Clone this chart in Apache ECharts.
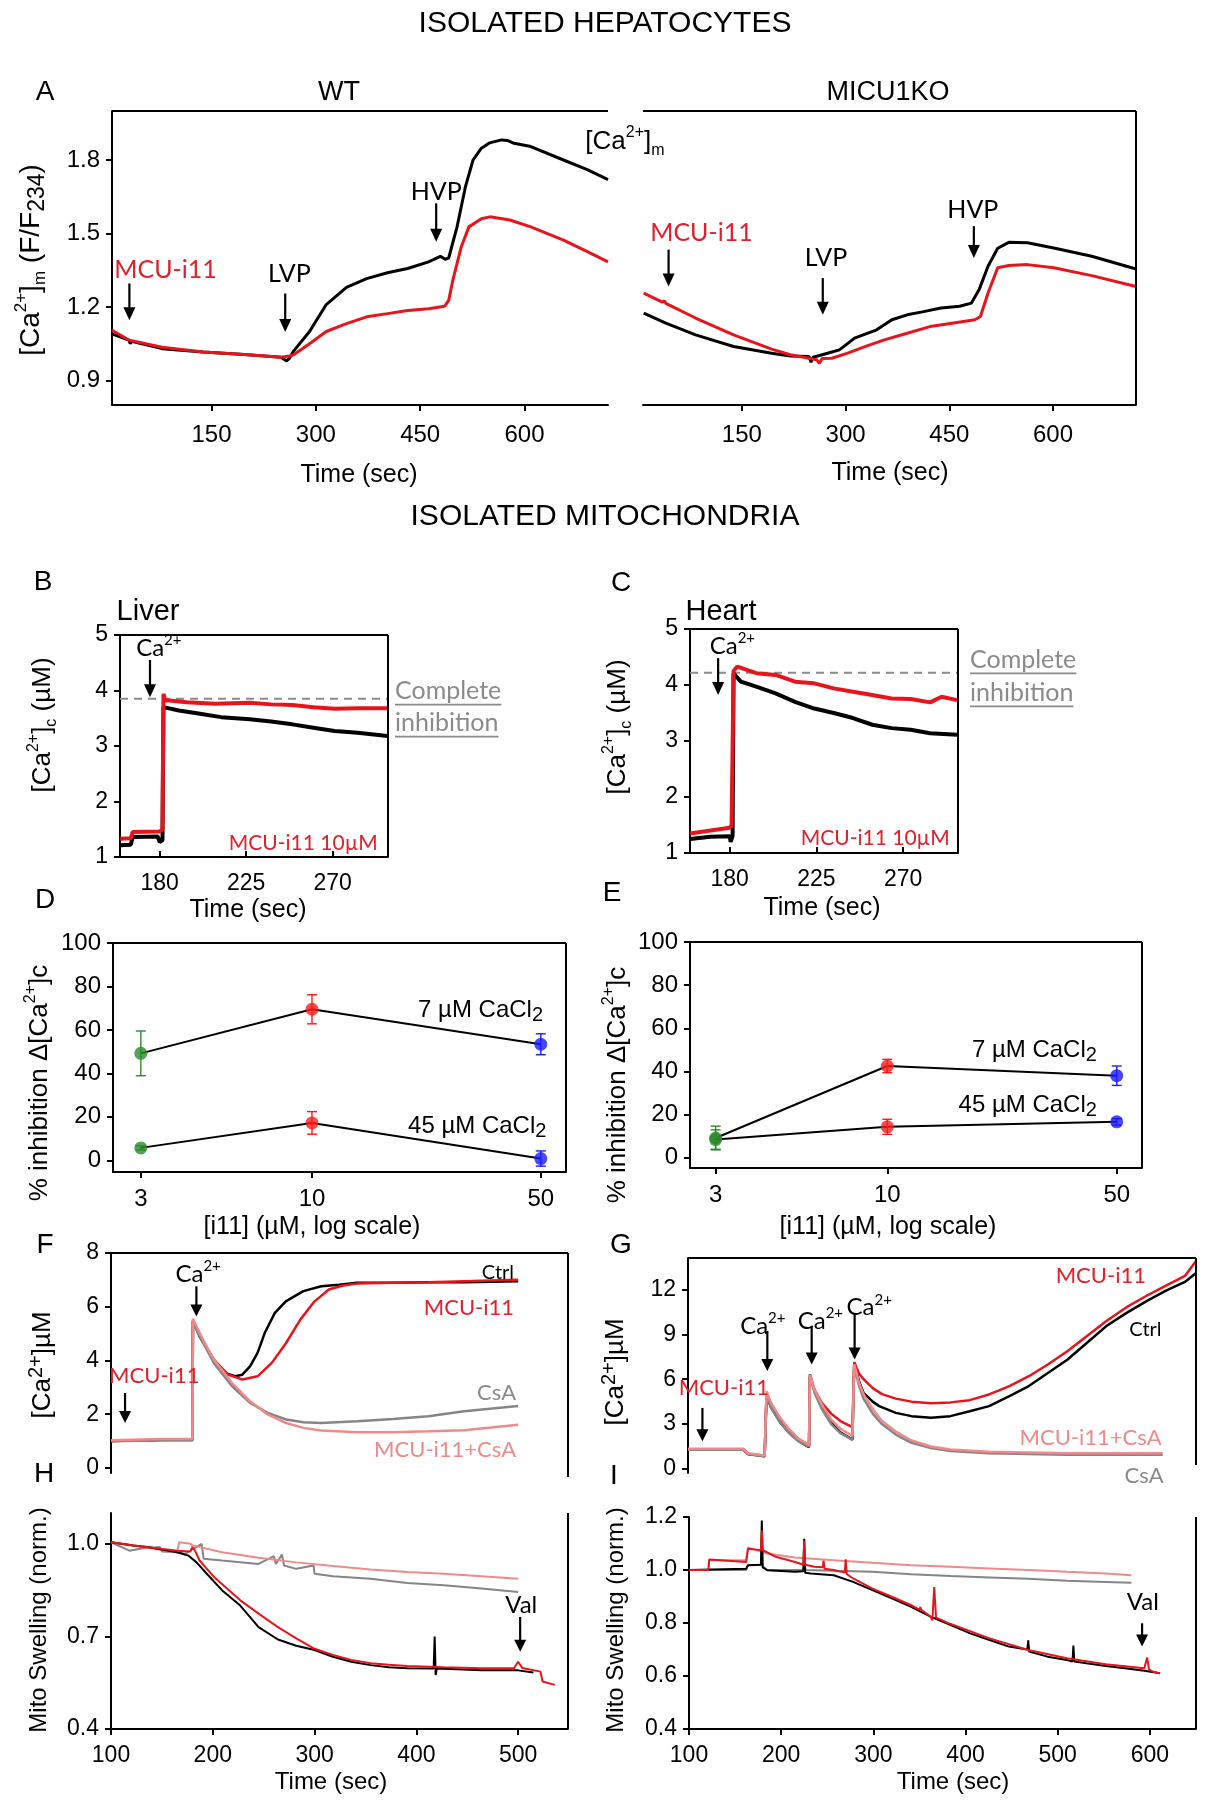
<!DOCTYPE html>
<html><head><meta charset="utf-8">
<script src="https://cdn.jsdelivr.net/npm/echarts@6/dist/echarts.min.js"></script>
<style>html,body{margin:0;padding:0;background:#fff}#c{width:1211px;height:1800px}</style>
</head><body><div id="c"></div>
<script>
// ---------------- DATA ----------------
// Panel A (isolated hepatocytes), [time s, F/F234]
const A_WT_CTRL = [[7,1.09],[32,1.064],[33,1.05],[35,1.06],[79,1.03],[138,1.016],[197,1.006],[250,0.995],[258,0.98],[262,0.99],[268,1.02],[291,1.10],[315,1.21],[344,1.28],[373,1.316],[403,1.34],[432,1.357],[462,1.384],[479,1.407],[486,1.395],[491,1.40],[503,1.527],[515,1.69],[526,1.80],[538,1.848],[550,1.87],[567,1.882],[575,1.88],[585,1.868],[609,1.855],[656,1.80],[691,1.76],[720,1.72]];
const A_WT_MCU = [[7,1.105],[32,1.064],[79,1.036],[138,1.016],[197,1.006],[250,0.995],[262,1.0],[268,1.005],[291,1.05],[315,1.10],[344,1.132],[373,1.16],[403,1.173],[432,1.186],[462,1.193],[485,1.203],[491,1.227],[497,1.31],[509,1.445],[520,1.527],[538,1.56],[550,1.568],[579,1.555],[609,1.527],[656,1.473],[691,1.425],[720,1.384]];
const A_KO_CTRL = [[8,1.175],[40,1.134],[83,1.086],[138,1.039],[193,1.011],[220,1.0],[247,0.998],[250,0.975],[253,0.995],[274,1.011],[291,1.025],[313,1.073],[345,1.107],[367,1.148],[389,1.168],[411,1.18],[438,1.196],[465,1.203],[482,1.216],[493,1.27],[506,1.366],[520,1.44],[536,1.464],[563,1.462],[601,1.441],[656,1.407],[720,1.355]];
const A_KO_MCU = [[8,1.257],[35,1.22],[38,1.225],[40,1.215],[83,1.155],[138,1.086],[193,1.028],[220,1.005],[247,0.991],[258,0.985],[262,0.97],[266,0.99],[280,0.991],[302,1.011],[329,1.039],[356,1.066],[389,1.093],[422,1.12],[454,1.134],[487,1.148],[495,1.161],[506,1.257],[520,1.36],[536,1.369],[563,1.373],[601,1.36],[656,1.328],[720,1.284]];
const A_X_TICKS = [150,300,450,600];
const A_Y_TICKS = [0.9,1.2,1.5,1.8];

// Panel B (liver) / C (heart), [time s, µM]
const B_CTRL = [[159.5,1.21],[165,1.22],[166,1.36],[179,1.37],[180,1.27],[181.5,1.30],[182,3.70],[190,3.64],[201,3.58],[212,3.52],[227,3.48],[238,3.44],[249,3.39],[260,3.33],[271,3.27],[283,3.24],[298.5,3.18]];
const B_MCU = [[159.5,1.33],[165,1.34],[166,1.45],[180,1.46],[181.5,1.5],[182,3.94],[183,3.82],[185,3.82],[194,3.79],[209,3.76],[227,3.78],[238,3.75],[249,3.74],[260,3.70],[271,3.67],[283,3.68],[298.5,3.68]];
const B_COMPLETE = 3.85;
const C_CTRL = [[159.5,1.25],[170,1.29],[180,1.30],[180.5,1.2],[181.5,1.3],[182,4.21],[182.7,4.18],[185.8,4.06],[193.8,3.97],[203.8,3.85],[213.9,3.70],[223.9,3.58],[234,3.50],[244,3.41],[254,3.29],[264,3.23],[274,3.20],[284,3.14],[298,3.11]];
const C_MCU = [[159.5,1.35],[170,1.40],[180,1.45],[181,1.5],[182,4.25],[184,4.33],[193.8,4.21],[203.8,4.18],[213.9,4.06],[223.9,4.03],[234,3.94],[244,3.88],[254,3.82],[264,3.76],[274,3.75],[284,3.69],[290,3.79],[298,3.73]];
const C_COMPLETE = 4.22;
const BC_X_TICKS = [180,225,270];
const BC_Y_TICKS = [1,2,3,4,5];

// Panels D / E (% inhibition)
const DE_CONC = [3,10,50];
const D_7_MEAN = [49.2,69.5,53.4],  D_7_ERR = [10.3,6.7,4.8];
const D_45_MEAN = [5.7,17.2,0.8],   D_45_ERR = [1.0,5.2,3.5];
const E_7_MEAN = [9.1,42.5,38.0],   E_7_ERR = [5.5,3.1,4.5];
const E_45_MEAN = [8.4,14.3,16.6],  E_45_ERR = [4.5,3.5,1.5];
const DE_Y_TICKS = [0,20,40,60,80,100];

// Panel F / G ([Ca2+] µM)
const F_CTRL = [[100,1.0],[140,1.02],[150,1.05],[180,1.05],[180.5,5.46],[187,4.9],[201,4.03],[211,3.54],[222,3.41],[229,3.47],[236.6,3.78],[244,4.28],[251,5.02],[261,5.77],[271.7,6.2],[289,6.58],[306.6,6.76],[324,6.82],[342,6.89],[377,6.89],[412,6.91],[447,6.91],[500,6.95]];
const F_MCU = [[100,1.0],[150,1.05],[180,1.05],[180.5,5.5],[190,4.7],[201,4.03],[215,3.47],[229,3.29],[244,3.41],[258,3.91],[272,4.65],[286,5.52],[300,6.2],[314,6.64],[328,6.79],[342,6.86],[377,6.89],[412,6.91],[447,6.95],[500,7.0]];
const F_CSA = [[100,1.0],[150,1.02],[180,1.02],[180.5,5.4],[190,4.7],[201,3.91],[219,3.04],[236.6,2.42],[254,2.05],[272,1.80],[289,1.70],[306.6,1.67],[342,1.74],[377,1.82],[412,1.92],[447,2.11],[500,2.30]];
const F_MCU_CSA = [[100,1.03],[150,1.08],[180,1.08],[180.5,5.55],[190,4.8],[201,4.03],[219,3.16],[236.6,2.48],[254,1.99],[272,1.67],[289,1.49],[306.6,1.39],[342,1.33],[377,1.33],[412,1.36],[447,1.40],[500,1.61]];
const F_Y_TICKS = [0,2,4,6,8];
const G_CTRL = [[100,1.29],[160,1.29],[165,1.0],[183,0.85],[185,4.87],[190,4.1],[200,3.1],[210,2.4],[220,1.85],[231,1.45],[232,6.32],[237,5.2],[245,4.1],[255,3.1],[265,2.45],[278,1.96],[280,7.1],[285,5.9],[290,5.09],[300,4.5],[307,4.2],[325,3.75],[342,3.53],[363,3.42],[384,3.53],[405,3.86],[426,4.2],[448,4.87],[469,5.54],[490,6.43],[511,7.32],[532,8.44],[553,9.55],[574,10.4],[596,11.2],[617,11.9],[638,12.5],[650,13.1]];
const G_MCU = [[100,1.3],[160,1.3],[165,1.0],[183,0.88],[185,5.0],[190,4.3],[200,3.3],[210,2.6],[220,2.0],[231,1.6],[232,6.2],[237,5.3],[245,4.4],[255,3.7],[265,3.2],[278,2.8],[280,7.14],[285,6.4],[290,6.0],[300,5.4],[310,5.0],[325,4.7],[342,4.5],[363,4.4],[384,4.45],[405,4.6],[426,4.98],[448,5.54],[469,6.2],[490,7.0],[511,7.88],[532,8.88],[553,9.89],[574,10.78],[596,11.56],[617,12.23],[638,12.9],[650,13.9]];
const G_CSA = [[100,1.28],[160,1.28],[165,1.0],[183,0.85],[185,4.9],[190,4.1],[200,3.1],[210,2.35],[220,1.85],[231,1.5],[232,6.2],[237,5.1],[245,4.0],[255,3.0],[265,2.4],[278,1.95],[280,6.9],[285,5.6],[290,4.7],[300,3.7],[310,3.0],[325,2.3],[342,1.75],[363,1.4],[384,1.2],[426,1.05],[511,0.95],[614,0.95]];
const G_MCU_CSA = [[100,1.35],[160,1.35],[165,1.05],[183,0.9],[185,5.2],[190,4.4],[200,3.4],[210,2.6],[220,2.0],[231,1.6],[232,6.3],[237,5.3],[245,4.3],[255,3.3],[265,2.7],[278,2.2],[280,7.0],[285,5.8],[290,5.0],[300,4.0],[310,3.2],[325,2.5],[342,1.9],[363,1.5],[384,1.3],[426,1.15],[511,1.05],[614,1.05]];
const G_Y_TICKS = [0,3,6,9,12];

// Panel H / I (mito swelling)
const H_CTRL = [[100,1.005],[122,0.995],[136,0.99],[165,0.973],[176,0.962],[184,0.94],[195,0.90],[209,0.85],[227,0.80],[245,0.73],[264,0.69],[282,0.67],[300,0.656],[318,0.634],[336,0.618],[355,0.607],[373,0.60],[391,0.597],[417,0.596],[418,0.70],[419,0.575],[420,0.596],[427,0.595],[464,0.59],[500,0.59],[515,0.583]];
const H_MCU = [[100,1.005],[122,0.995],[165,0.978],[178,0.975],[180,0.99],[183,0.975],[187,0.946],[202,0.89],[209,0.87],[227,0.817],[245,0.774],[264,0.73],[282,0.694],[300,0.66],[318,0.64],[336,0.624],[355,0.613],[373,0.608],[391,0.604],[427,0.60],[464,0.597],[496,0.597],[500,0.618],[504,0.598],[522,0.586],[524,0.554],[536,0.543]];
const H_CSA = [[100,1.005],[118,0.978],[130,0.985],[148,0.99],[150,0.975],[165,0.973],[173,0.968],[189,1.0],[191,0.952],[209,0.946],[245,0.935],[260,0.96],[262,0.935],[268,0.965],[270,0.93],[282,0.919],[299,0.93],[300,0.903],[318,0.895],[355,0.887],[391,0.873],[427,0.866],[464,0.855],[500,0.844]];
const H_MCU_CSA = [[100,1.005],[165,0.973],[167,1.005],[178,1.0],[180,0.995],[209,0.973],[245,0.955],[282,0.94],[318,0.928],[355,0.917],[391,0.909],[427,0.903],[464,0.895],[500,0.887]];
const H_X_TICKS = [100,200,300,400,500];
const H_Y_TICKS = [0.4,0.7,1.0];
const I_CTRL = [[100,1.0],[162,1.005],[164,1.018],[178,1.02],[179,1.187],[180,1.01],[185,0.999],[215,0.993],[224,0.995],[225,1.118],[226,0.99],[232,0.987],[257,0.98],[278,0.955],[299,0.924],[320,0.893],[341,0.861],[362,0.824],[384,0.792],[405,0.761],[426,0.736],[447,0.711],[467,0.70],[468,0.735],[469,0.692],[489,0.673],[510,0.66],[516,0.655],[517,0.715],[518,0.655],[531,0.648],[552,0.638],[573,0.629],[594,0.62],[611,0.61]];
const I_MCU = [[100,1.0],[121,1.0],[122,1.04],[162,1.03],[164,1.08],[178,1.075],[179,1.15],[180,1.075],[194,1.05],[215,1.03],[224,1.02],[225,1.11],[226,1.02],[236,1.012],[245,1.01],[246,1.035],[247,1.005],[257,1.0],[269,0.99],[270,1.04],[271,0.985],[278,0.968],[299,0.93],[320,0.899],[341,0.867],[350,0.85],[351,0.86],[352,0.85],[362,0.824],[364,0.81],[366,0.936],[368,0.82],[384,0.796],[426,0.742],[468,0.698],[510,0.667],[552,0.644],[594,0.629],[597,0.67],[599,0.625],[603,0.617],[611,0.61]];
const I_CSA = [[100,1.0],[162,1.0],[164,1.018],[178,1.02],[185,1.0],[223,1.0],[225,1.015],[227,1.0],[257,0.997],[299,0.993],[341,0.984],[384,0.977],[426,0.972],[468,0.967],[510,0.959],[552,0.955],[580,0.952]];
const I_MCU_CSA = [[100,1.0],[121,1.0],[122,1.037],[162,1.037],[164,1.085],[185,1.062],[215,1.047],[257,1.037],[299,1.027],[341,1.018],[384,1.012],[426,1.006],[468,1.0],[510,0.993],[552,0.987],[580,0.98]];
const I_X_TICKS = [100,200,300,400,500,600];
const I_Y_TICKS = [0.4,0.6,0.8,1.0,1.2];

// ---------------- STYLE / LAYOUT ----------------
const SANS = "'Liberation Sans', Arial, sans-serif";
const CAL = "Lato, 'Open Sans', sans-serif";
const BLACK = '#000000', RED = '#e8141c', PINK = '#f08a8a', GRAY = '#858585';
const TXT_RED = '#e0202a', TXT_GRAY = '#8a8a8a';
const DOT_COLORS = ['#2a8a2a', '#ff1a1a', '#1a1aff'];

const L = [
  {l:112, t:111, r:608, b:405},   // 0 A WT
  {l:643, t:111, r:1136, b:405},  // 1 A KO
  {l:120, t:635, r:388, b:857},   // 2 B
  {l:690, t:629, r:958, b:853},   // 3 C
  {l:113, t:943, r:566, b:1172},  // 4 D
  {l:690, t:942, r:1142, b:1168}, // 5 E
  {l:111, t:1253, r:568, b:1473}, // 6 F
  {l:688, t:1258, r:1196, b:1473},// 7 G
  {l:111, t:1513, r:568, b:1729}, // 8 H
  {l:689, t:1517, r:1196, b:1729} // 9 I
];
const XR = [[7,720],[7,720],[159.4,298.8],[159.4,298.5],[2.467,59.7],[2.506,59.7],[100,549],[100,650],[100,549],[100,650]];
const YR = [[0.8,2.0],[0.8,2.0],[1,5],[1,5],[-5.4,100],[-4.8,100],[-0.19,8],[-0.27,14.1],[0.4,1.1],[0.4,1.2]];
const XT = [A_X_TICKS, A_X_TICKS, BC_X_TICKS, BC_X_TICKS, DE_CONC, DE_CONC, null, null, H_X_TICKS, I_X_TICKS];
const YT = [A_Y_TICKS, null, BC_Y_TICKS, BC_Y_TICKS, DE_Y_TICKS, DE_Y_TICKS, F_Y_TICKS, G_Y_TICKS, H_Y_TICKS, I_Y_TICKS];
const YDEC = [1,0,0,0,0,0,0,0,1,1];
const TICK_FONT = [24,24,23,23,24,24,23,23,23,23];

const chart = echarts.init(document.getElementById('c'), null, {width:1211, height:1800});

const grids = L.map(g => ({left:g.l, top:g.t, width:g.r-g.l, height:g.b-g.t, containLabel:false}));
const xAxes = L.map((g,i) => {
  const ticks = XT[i];
  const base = {gridIndex:i, type:(i===4||i===5)?'log':'value', min:XR[i][0], max:XR[i][1], splitLine:{show:false}};
  if (i===4||i===5) base.logBase = 10;
  if (!ticks) return Object.assign(base, {show:false});
  return Object.assign(base, {
    axisLine:{show:true, onZero:false, lineStyle:{color:'#000', width:2}},
    axisTick:{show:true, customValues:ticks, length:6, inside:(i===2||i===3), lineStyle:{color:'#000', width:2}},
    axisLabel:{customValues:ticks, fontSize:TICK_FONT[i], fontFamily:SANS, color:'#000', margin:(i<2?18:15)}
  });
});
const yAxes = L.map((g,i) => {
  const ticks = YT[i];
  const base = {gridIndex:i, type:'value', min:YR[i][0], max:YR[i][1], splitLine:{show:false}};
  if (!ticks) return Object.assign(base, {show:false});
  return Object.assign(base, {
    axisLine:{show:true, onZero:false, lineStyle:{color:'#000', width:2}},
    axisTick:{show:true, customValues:ticks, length:6, lineStyle:{color:'#000', width:2}},
    axisLabel:{customValues:ticks, fontSize:TICK_FONT[i], fontFamily:SANS, color:'#000', margin:12,
      formatter: v => YDEC[i] ? Number(v).toFixed(1) : String(Math.round(v))}
  });
});

function ln(gi, data, color, width, z, extra) {
  return Object.assign({type:'line', xAxisIndex:gi, yAxisIndex:gi, data, showSymbol:false, symbol:'none',
    lineStyle:{color, width}, itemStyle:{color}, z:z||2, silent:true, animation:false}, extra||{});
}
function pts(conc, mean) { return conc.map((c,i)=>[c, mean[i]]); }
function dots(gi, conc, mean) {
  return {type:'scatter', xAxisIndex:gi, yAxisIndex:gi, symbolSize:13, z:6, silent:true, animation:false,
    data: conc.map((c,i)=>({value:[c, mean[i]], itemStyle:{color:DOT_COLORS[i]}}))};
}
function errs(gi, conc, mean, err) {
  return {type:'custom', xAxisIndex:gi, yAxisIndex:gi, z:5, silent:true, animation:false,
    data: conc.map((c,i)=>[c, mean[i], err[i], i]),
    renderItem: (params, api) => {
      const x = api.value(0), m = api.value(1), e = api.value(2), c = DOT_COLORS[api.value(3)];
      const top = api.coord([x, m+e]), bot = api.coord([x, m-e]);
      const w = 5, st = {stroke:c, lineWidth:1.4};
      return {type:'group', children:[
        {type:'line', shape:{x1:top[0], y1:top[1], x2:bot[0], y2:bot[1]}, style:st},
        {type:'line', shape:{x1:top[0]-w, y1:top[1], x2:top[0]+w, y2:top[1]}, style:st},
        {type:'line', shape:{x1:bot[0]-w, y1:bot[1], x2:bot[0]+w, y2:bot[1]}, style:st}
      ]};
    }};
}
const series = [
  ln(0, A_WT_CTRL, BLACK, 3), ln(0, A_WT_MCU, RED, 3, 3),
  ln(1, A_KO_CTRL, BLACK, 3), ln(1, A_KO_MCU, RED, 3, 3),
  ln(2, [[XR[2][0], B_COMPLETE],[XR[2][1], B_COMPLETE]], '#8c8c8c', 2, 1, {lineStyle:{color:'#8c8c8c', width:2, type:[8,6]}}),
  ln(2, B_CTRL, BLACK, 4), ln(2, B_MCU, RED, 4, 3),
  ln(3, [[XR[3][0], C_COMPLETE],[XR[3][1], C_COMPLETE]], '#8c8c8c', 2, 1, {lineStyle:{color:'#8c8c8c', width:2, type:[8,6]}}),
  ln(3, C_CTRL, BLACK, 4), ln(3, C_MCU, RED, 4, 3),
  ln(4, pts(DE_CONC, D_7_MEAN), BLACK, 2), ln(4, pts(DE_CONC, D_45_MEAN), BLACK, 2),
  errs(4, DE_CONC, D_7_MEAN, D_7_ERR), errs(4, DE_CONC, D_45_MEAN, D_45_ERR),
  dots(4, DE_CONC, D_7_MEAN), dots(4, DE_CONC, D_45_MEAN),
  ln(5, pts(DE_CONC, E_7_MEAN), BLACK, 2), ln(5, pts(DE_CONC, E_45_MEAN), BLACK, 2),
  errs(5, DE_CONC, E_7_MEAN, E_7_ERR), errs(5, DE_CONC, E_45_MEAN, E_45_ERR),
  dots(5, DE_CONC, E_7_MEAN), dots(5, DE_CONC, E_45_MEAN),
  ln(6, F_CTRL, BLACK, 2.5, 2), ln(6, F_MCU, RED, 2.5, 3), ln(6, F_CSA, GRAY, 2.5, 4), ln(6, F_MCU_CSA, PINK, 2.5, 5),
  ln(7, G_CTRL, BLACK, 2.5, 2), ln(7, G_MCU, RED, 2.5, 3), ln(7, G_CSA, GRAY, 2.5, 4), ln(7, G_MCU_CSA, PINK, 2.5, 5),
  ln(8, H_CSA, GRAY, 2, 2), ln(8, H_MCU_CSA, PINK, 2, 3), ln(8, H_CTRL, BLACK, 2, 4), ln(8, H_MCU, RED, 2, 5),
  ln(9, I_CSA, GRAY, 2, 2), ln(9, I_MCU_CSA, PINK, 2, 3), ln(9, I_CTRL, BLACK, 2, 4), ln(9, I_MCU, RED, 2, 5)
];

chart.setOption({animation:false, textStyle:{fontFamily:SANS}, grid:grids, xAxis:xAxes, yAxis:yAxes, series});

// ---------------- ANNOTATIONS ----------------
function rich(size, color, family) {
  const s = Math.round(size*0.62), s2 = Math.round(size*0.82), s3 = Math.round(size*0.78);
  return {
    sup:{fontSize:s, fontFamily:family, fill:color, verticalAlign:'top', lineHeight:s},
    supL:{fontSize:s3, fontFamily:family, fill:color, verticalAlign:'top', lineHeight:s3},
    sub:{fontSize:s, fontFamily:family, fill:color, verticalAlign:'bottom', lineHeight:s},
    sub2:{fontSize:s2, fontFamily:family, fill:color, verticalAlign:'bottom', lineHeight:s2}
  };
}
function txt(x, y, text, size, o) {
  o = o || {};
  const color = o.color || '#000', family = o.family || SANS;
  return {type:'text', x, y, rotation:o.rot||0, z:50, silent:true,
    style:{text, fill:color, fontSize:size, fontFamily:family, align:o.align||'center', verticalAlign:o.va||'middle',
      lineHeight:Math.round(size*1.3), rich:rich(size, color, family)}};
}
function px(gi, x, y) { return chart.convertToPixel({xAxisIndex:gi, yAxisIndex:gi}, [x, y]); }
function dtxt(gi, x, y, text, size, o) { const p = px(gi, x, y); return txt(p[0], p[1], text, size, o); }
function arrow(gi, x, y1, y2, o) {
  o = o || {};
  const p1 = px(gi, x, y1), p2 = px(gi, x, y2);
  const hw = o.hw || 6, hl = o.hl || 13;
  return [
    {type:'line', z:50, silent:true, shape:{x1:p1[0], y1:p1[1], x2:p2[0], y2:p2[1]-hl+2}, style:{stroke:'#000', lineWidth:o.lw||2.2}},
    {type:'polygon', z:50, silent:true, shape:{points:[[p2[0]-hw, p2[1]-hl],[p2[0]+hw, p2[1]-hl],[p2[0], p2[1]]]}, style:{fill:'#000'}}
  ];
}
function seg(x1, y1, x2, y2, w) {
  return {type:'line', z:40, silent:true, shape:{x1, y1, x2, y2}, style:{stroke:'#000', lineWidth:w||2}};
}
const measure = document.createElement('canvas').getContext('2d');
function underlined(x, y, text, size, color, family) {
  measure.font = size + 'px ' + family;
  const w = measure.measureText(text).width;
  return [txt(x, y, text, size, {align:'left', color, family}),
    {type:'line', z:50, silent:true, shape:{x1:x, y1:y+size*0.55, x2:x+w, y2:y+size*0.55}, style:{stroke:color, lineWidth:1.8}}];
}

const G = [];
// frames
G.push(seg(L[0].l, L[0].t, L[0].r, L[0].t));
G.push(seg(L[1].l, L[1].t, L[1].r, L[1].t), seg(L[1].r, L[1].t, L[1].r, L[1].b));
[2,3,4,5].forEach(i => G.push(seg(L[i].l, L[i].t, L[i].r, L[i].t), seg(L[i].r, L[i].t, L[i].r, L[i].b)));
G.push(seg(L[6].l, L[6].t, L[6].r, L[6].t), seg(L[6].r, L[6].t, L[6].r, L[6].b+4));
G.push(seg(L[7].l, L[7].t, L[7].r, L[7].t), seg(L[7].r, L[7].t, L[7].r, L[7].b-8));
G.push(seg(L[8].r, L[8].t, L[8].r, L[8].b), seg(L[9].r, L[9].t, L[9].r, L[9].b));

// headings and panel letters
G.push(txt(605, 24, 'ISOLATED HEPATOCYTES', 30));
G.push(txt(605, 517, 'ISOLATED MITOCHONDRIA', 30));
[['A',45,92],['B',43,582],['C',621,583],['D',45,900],['E',612,893],['F',45,1245],['G',621,1245],['H',44,1474],['I',614,1476]]
  .forEach(a => G.push(txt(a[1], a[2], a[0], 28)));
G.push(txt(339, 93, 'WT', 27), txt(888, 93, 'MICU1KO', 27));
G.push(txt(625, 142, '[Ca{sup|2+}]{sub|m}', 26));
G.push(txt(148, 612, 'Liver', 29), txt(721, 612, 'Heart', 29));

// axis titles
const R90 = Math.PI/2;
G.push(txt(31, 260, '[Ca{sup|2+}]{sub|m} (F/F{sub2|234})', 28, {rot:R90}));
G.push(txt(359, 475, 'Time (sec)', 25), txt(890, 473, 'Time (sec)', 25));
G.push(txt(43, 725, '[Ca{sup|2+}]{sub|c} (µM)', 26, {rot:R90}), txt(618, 727, '[Ca{sup|2+}]{sub|c} (µM)', 26, {rot:R90}));
G.push(txt(248, 910, 'Time (sec)', 25), txt(822, 908, 'Time (sec)', 25));
G.push(txt(40, 1083, '% inhibition Δ[Ca{sup|2+}]c', 26, {rot:R90}), txt(618, 1085, '% inhibition Δ[Ca{sup|2+}]c', 26, {rot:R90}));
G.push(txt(312, 1227, '[i11] (µM, log scale)', 25), txt(888, 1227, '[i11] (µM, log scale)', 25));
G.push(txt(43, 1365, '[Ca{supL|2+}]µM', 26, {rot:R90}), txt(616, 1372, '[Ca{supL|2+}]µM', 26, {rot:R90}));
G.push(txt(39, 1620, 'Mito Swelling (norm.)', 24, {rot:R90}), txt(616, 1620, 'Mito Swelling (norm.)', 24, {rot:R90}));
G.push(txt(331, 1782, 'Time (sec)', 24), txt(953, 1782, 'Time (sec)', 24));

// A annotations
G.push(dtxt(0, 84, 1.35, 'MCU-i11', 25, {color:TXT_RED, family:CAL}), ...arrow(0, 32, 1.296, 1.146));
G.push(dtxt(0, 262, 1.336, 'LVP', 25, {family:CAL}), ...arrow(0, 256, 1.255, 1.098));
G.push(dtxt(0, 473, 1.67, 'HVP', 25, {family:CAL}), ...arrow(0, 473, 1.623, 1.466));
G.push(dtxt(1, 91.6, 1.502, 'MCU-i11', 25, {color:TXT_RED, family:CAL}), ...arrow(1, 44, 1.434, 1.284));
G.push(dtxt(1, 271.6, 1.40, 'LVP', 25, {family:CAL}), ...arrow(1, 267, 1.318, 1.168));
G.push(dtxt(1, 484, 1.598, 'HVP', 25, {family:CAL}), ...arrow(1, 485.5, 1.53, 1.40));

// B / C annotations
G.push(dtxt(2, 179.6, 4.76, 'Ca{sup|2+}', 24, {family:CAL}), ...arrow(2, 175, 4.55, 3.88));
G.push(dtxt(2, 293.5, 1.24, 'MCU-i11 10µM', 21, {color:TXT_RED, family:CAL, align:'right'}));
G.push(dtxt(3, 181.4, 4.69, 'Ca{sup|2+}', 24, {family:CAL}), ...arrow(3, 174, 4.48, 3.82));
G.push(dtxt(3, 294.2, 1.26, 'MCU-i11 10µM', 21, {color:TXT_RED, family:CAL, align:'right'}));
{
  const pb = px(2, XR[2][1], B_COMPLETE), pc = px(3, XR[3][1], C_COMPLETE);
  G.push(...underlined(L[2].r + 7, pb[1] - 8, 'Complete', 25, TXT_GRAY, CAL));
  G.push(...underlined(L[2].r + 7, pb[1] + 24, 'inhibition', 25, TXT_GRAY, CAL));
  G.push(...underlined(L[3].r + 12, pc[1] - 13, 'Complete', 25, TXT_GRAY, CAL));
  G.push(...underlined(L[3].r + 12, pc[1] + 20, 'inhibition', 25, TXT_GRAY, CAL));
}
// D / E labels
G.push(dtxt(4, 50.8, 69, '7 µM CaCl{sub2|2}', 24, {align:'right'}), dtxt(4, 52, 15.7, '45 µM CaCl{sub2|2}', 24, {align:'right'}));
G.push(dtxt(5, 43.5, 49.8, '7 µM CaCl{sub2|2}', 24, {align:'right'}), dtxt(5, 43.5, 24.2, '45 µM CaCl{sub2|2}', 24, {align:'right'}));
// F annotations
G.push(dtxt(6, 185.6, 7.2, 'Ca{sup|2+}', 24, {family:CAL}), ...arrow(6, 183.9, 6.76, 5.64, {hl:12}));
G.push(dtxt(6, 142.5, 3.41, 'MCU-i11', 22, {color:TXT_RED, family:CAL}), ...arrow(6, 113.8, 2.79, 1.67, {hl:12}));
G.push(dtxt(6, 496, 7.26, 'Ctrl', 20, {family:CAL, align:'right'}));
G.push(dtxt(6, 496, 5.96, 'MCU-i11', 22, {color:TXT_RED, family:CAL, align:'right'}));
G.push(dtxt(6, 498, 2.79, 'CsA', 22, {color:TXT_GRAY, family:CAL, align:'right'}));
G.push(dtxt(6, 498, 0.68, 'MCU-i11+CsA', 22, {color:'#ee8a8a', family:CAL, align:'right'}));
// G annotations
G.push(dtxt(7, 181, 9.55, 'Ca{sup|2+}', 24, {family:CAL}), ...arrow(7, 185.9, 9.22, 6.54, {hl:12}));
G.push(dtxt(7, 243.3, 9.89, 'Ca{sup|2+}', 24, {family:CAL}), ...arrow(7, 233.9, 9.55, 6.99, {hl:12}));
G.push(dtxt(7, 296.2, 10.78, 'Ca{sup|2+}', 24, {family:CAL}), ...arrow(7, 280.4, 10.33, 7.32, {hl:12}));
G.push(dtxt(7, 138.8, 5.42, 'MCU-i11', 22, {color:TXT_RED, family:CAL}), ...arrow(7, 115.6, 4.08, 1.85, {hl:12}));
G.push(dtxt(7, 595.8, 12.9, 'MCU-i11', 22, {color:TXT_RED, family:CAL, align:'right'}));
G.push(dtxt(7, 612.7, 9.33, 'Ctrl', 20, {family:CAL, align:'right'}));
G.push(dtxt(7, 612.7, 2.08, 'MCU-i11+CsA', 22, {color:'#ee8a8a', family:CAL, align:'right'}));
G.push(dtxt(7, 614.9, -0.49, 'CsA', 22, {color:TXT_GRAY, family:CAL, align:'right'}));
// H / I annotations
G.push(dtxt(8, 503, 0.801, 'Val', 24, {family:CAL}), ...arrow(8, 502, 0.763, 0.65, {hl:12}));
G.push(dtxt(9, 592.4, 0.88, 'Val', 24, {family:CAL}), ...arrow(9, 591.5, 0.799, 0.711, {hl:12}));

chart.setOption({graphic:{elements:G}});
</script></body></html>
